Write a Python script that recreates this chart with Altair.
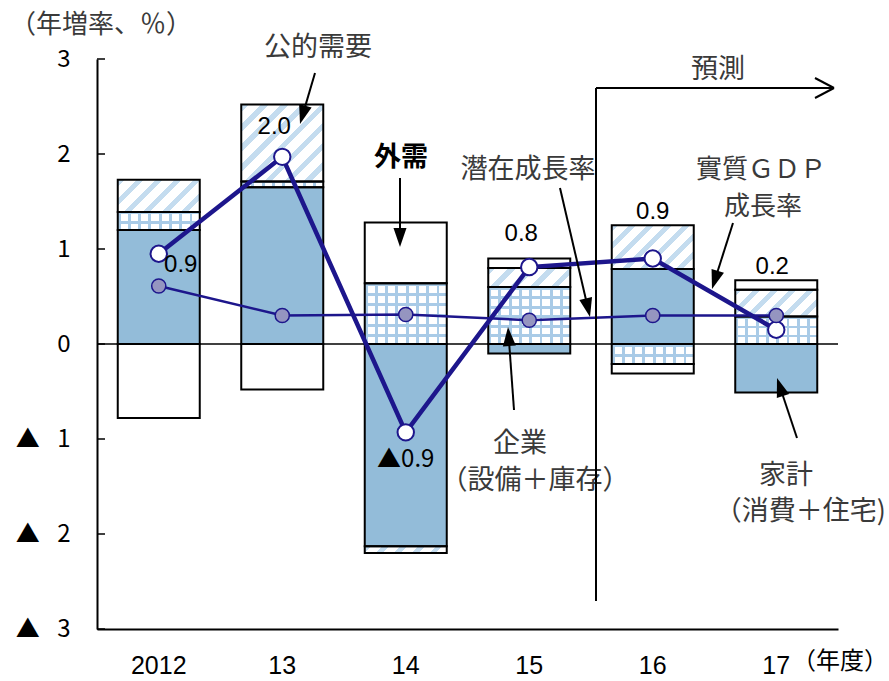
import math
import altair as alt
import pandas as pd

# ---------------- data ----------------
years = ["2012", "13", "14", "15", "16", "17"]
household = [1.20, 1.65, -2.13, -0.10, 0.79, -0.51]   # 家計（消費＋住宅）
corporate = [0.19, 0.06, 0.64, 0.60, -0.21, 0.29]     # 企業（設備＋庫存）
public = [0.34, 0.81, -0.07, 0.20, 0.46, 0.28]        # 公的需要
external = [-0.78, -0.48, 0.64, 0.10, -0.10, 0.10]    # 外需
gdp = [0.95, 1.97, -0.93, 0.81, 0.90, 0.15]           # 實質ＧＤＰ成長率
potential = [0.61, 0.30, 0.31, 0.25, 0.30, 0.30]      # 潛在成長率
gdp_text = ["0.9", "2.0", "▲0.9", "0.8", "0.9", "0.2"]
y_ticks = [-3, -2, -1, 0, 1, 2, 3]

# annotation positions for the value labels (data units / pixel shift)
label_y = [0.83, 2.28, -1.22, 1.16, 1.39, 0.81]
label_dx = [22, -8, 0, -8, 0, -4]

# ---------------- layout / style ----------------
W, H = 741, 570
L, T = 97, 59
YMIN, YMAX = -3, 3
PPU = H / (YMAX - YMIN)
PAD_INNER = 0.336
STEP = W / len(years)
BAR_W = STEP * (1 - PAD_INNER)

NAVY = "#1d168c"
BLUE = "#93bcd9"
GRID_C = "#a9cbe7"
HATCH_C = "#c4dcef"
TXT = "#3a3a3a"
CJK = "Noto Sans CJK JP"
NUM = "Liberation Sans"
TRI = "Noto Sans CJK JP"

components = ["household", "corporate", "public", "external"]
series = [household, corporate, public, external]
rows = []
for i, yr in enumerate(years):
    for k, (c, vals) in enumerate(zip(components, series)):
        rows.append({"year": yr, "comp": c, "order": k, "value": vals[i]})
seg = pd.DataFrame(rows)
lines_df = pd.DataFrame({"year": years, "gdp": gdp, "pot": potential, "label": gdp_text})
dummy = pd.DataFrame({"a": [0]})

YS = alt.Scale(domain=[YMIN, YMAX], nice=False, zero=False)
YAX = alt.Axis(values=y_ticks, title=None, tickSize=0, domainColor="black", domainWidth=2,
               labelExpr="datum.value < 0 ? '▲\u2002 ' + abs(datum.value) : '' + datum.value",
               labelFont=TRI, labelFontSize=24, labelColor="black", labelPadding=27,
               labelOverlap=False, grid=False)
XS = alt.Scale(domain=years, paddingInner=PAD_INNER, paddingOuter=PAD_INNER / 2)
XAX = alt.Axis(title=None, labelFont=NUM, labelFontSize=25, labelColor="black", labelAngle=0,
               labelPadding=24, ticks=False, domainColor="black", domainWidth=2, grid=False)
xenc = alt.X("year:N", sort=years, scale=XS, axis=XAX)

stacked = alt.Chart(seg).transform_stack(
    stack="value", as_=["y0", "y1"], groupby=["year"],
    sort=[alt.SortField(field="order", order="ascending")])

seg_enc = dict(x=xenc, y=alt.Y("y0:Q", scale=YS, axis=YAX), y2="y1:Q")

base_fill = stacked.mark_bar(strokeOpacity=0).encode(
    color=alt.Color("comp:N", scale=alt.Scale(domain=components,
                                              range=[BLUE, "#ffffff", "#ffffff", "#ffffff"]),
                    legend=None),
    **seg_enc)


def stripes(n, frac, c_line, c_bg, x1, y1, x2, y2):
    stops = []
    for j in range(n):
        s = j / n
        e = (j + 1) / n
        m = s + frac / n
        stops += [alt.GradientStop(color=c_line, offset=s), alt.GradientStop(color=c_line, offset=m),
                  alt.GradientStop(color=c_bg, offset=m), alt.GradientStop(color=c_bg, offset=e)]
    return alt.LinearGradient(gradient="linear", stops=stops, x1=x1, y1=y1, x2=x2, y2=y2)


pattern_layers = []
for i, yr in enumerate(years):
    # hatch for public demand: 45 degree stripes
    h = abs(public[i]) * PPU
    w = BAR_W
    r = h / w
    a = (1 + r) / (1 + r * r)
    b = r * a
    n = max(1, round((w + h) / math.sqrt(2) / 13.5))
    g = stripes(n, 0.38, HATCH_C, "#ffffff", 0, 0, a, b)
    pattern_layers.append(
        stacked.transform_filter((alt.datum.year == yr) & (alt.datum.comp == "public"))
        .mark_bar(fill=g, strokeOpacity=0).encode(**seg_enc))
    # grid for corporate investment
    hc = abs(corporate[i]) * PPU
    ncol = max(1, round(w / 10.5))
    nrow = max(1, round(hc / 10.0))
    gv = stripes(ncol, 0.28, GRID_C, "#ffffff", 0, 0, 1, 0)
    gh = stripes(nrow, 0.28, GRID_C, "rgba(255,255,255,0)", 0, 0, 0, 1)
    for gg in (gv, gh):
        pattern_layers.append(
            stacked.transform_filter((alt.datum.year == yr) & (alt.datum.comp == "corporate"))
            .mark_bar(fill=gg, strokeOpacity=0).encode(**seg_enc))

outline = stacked.mark_bar(fill="white", fillOpacity=0, stroke="black", strokeWidth=2).encode(**seg_enc)

zero_line = alt.Chart(pd.DataFrame({"v": [0]})).mark_rule(color="black", strokeWidth=1.5).encode(
    y=alt.Y("v:Q", scale=YS, axis=YAX))
tick_rules = alt.Chart(pd.DataFrame({"t": y_ticks})).mark_rule(color="black", strokeWidth=1.5).encode(
    y=alt.Y("t:Q", scale=YS, axis=YAX), x=alt.value(0), x2=alt.value(8))

gdp_line = alt.Chart(lines_df).mark_line(color=NAVY, strokeWidth=4.5).encode(
    x=xenc, y=alt.Y("gdp:Q", scale=YS, axis=YAX))
gdp_pts = alt.Chart(lines_df).mark_point(shape="circle", filled=True, fill="white", stroke=NAVY,
                                         strokeWidth=2, size=270, opacity=1).encode(
    x=xenc, y=alt.Y("gdp:Q", scale=YS, axis=YAX))
pot_line = alt.Chart(lines_df).mark_line(color=NAVY, strokeWidth=2.5).encode(
    x=xenc, y=alt.Y("pot:Q", scale=YS, axis=YAX))
pot_pts = alt.Chart(lines_df).mark_point(shape="circle", filled=True, fill="#9595c0", stroke=NAVY,
                                         strokeWidth=1.5, size=200, opacity=1).encode(
    x=xenc, y=alt.Y("pot:Q", scale=YS, axis=YAX))

value_labels = []
for i, yr in enumerate(years):
    fnt = TRI if gdp[i] < 0 else NUM
    value_labels.append(
        alt.Chart(lines_df).transform_filter(alt.datum.year == yr)
        .mark_text(font=fnt, fontSize=24, color="black", baseline="middle", align="center",
                   dx=label_dx[i])
        .encode(x=xenc, y=alt.Y(datum=label_y[i], scale=YS, axis=YAX), text="label:N"))


def txt(s, cx, cy, size=27, weight="normal", color=TXT, align="center", font=CJK):
    return alt.Chart(dummy).mark_text(text=s, font=font, fontSize=size, fontWeight=weight,
                                      color=color, align=align, baseline="middle").encode(
        x=alt.value(cx - L), y=alt.value(cy - T))


def seg_line(x0, y0, x1, y1, w=2):
    return alt.Chart(dummy).mark_rule(color="black", strokeWidth=w).encode(
        x=alt.value(x0 - L), y=alt.value(y0 - T), x2=alt.value(x1 - L), y2=alt.value(y1 - T))


def arrow(x0, y0, x1, y1):
    dx, dy = x1 - x0, y1 - y0
    d = math.hypot(dx, dy)
    ex, ey = x1 - dx / d * 10, y1 - dy / d * 10
    ang = math.degrees(math.atan2(dx, -dy)) % 360
    head = alt.Chart(dummy).mark_point(shape="M0,0L-0.65,1.9L0.65,1.9Z", filled=True, fill="black",
                                       strokeOpacity=0, size=400, opacity=1, angle=ang).encode(
        x=alt.value(x1 - L), y=alt.value(y1 - T))
    return [seg_line(x0, y0, ex, ey), head]


annots = []
annots += [txt("（年増率、％）", 10, 25, size=26, align="left"),
           txt("公的需要", 318, 48),
           txt("外需", 401, 158, weight="bold", color="black"),
           txt("潛在成長率", 528, 170),
           txt("實質ＧＤＰ", 761, 170, size=26),
           txt("成長率", 763, 207, size=26),
           txt("預測", 718, 70),
           txt("企業", 520, 444),
           txt("（設備＋庫存）", 535, 481),
           txt("家計", 786, 476),
           txt("（消費＋住宅)", 886, 512, align="right"),
           txt("（年度）", 888, 662, size=24, color="black", align="right")]
annots += arrow(315, 73, 300, 124)
annots += arrow(400, 178, 400, 247)
annots += arrow(560, 188, 590, 317)
annots += arrow(733, 223, 712, 289)
annots += arrow(514, 410, 508, 327)
annots += arrow(797, 438, 777, 378)
# forecast bracket
annots += [seg_line(596, 88, 596, 601),
           seg_line(596, 88, 833, 88),
           seg_line(815, 78, 834, 88),
           seg_line(815, 98, 834, 88)]

chart = alt.layer(
    base_fill, *pattern_layers, outline, zero_line, tick_rules,
    gdp_line, pot_line, gdp_pts, pot_pts, *value_labels, *annots
).properties(
    width=W, height=H,
    autosize=alt.AutoSizeParams(type="none"),
    padding={"left": L, "top": T, "right": 889 - L - W, "bottom": 681 - T - H},
).configure_view(strokeOpacity=0)

chart.save("out.html", embed_options={"renderer": "svg", "actions": False})
